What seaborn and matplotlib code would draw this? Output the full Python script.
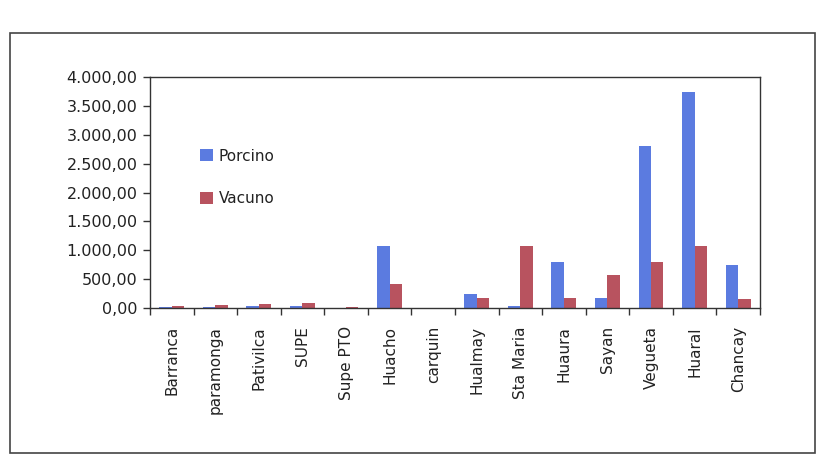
import matplotlib
matplotlib.use("Agg")
import matplotlib.pyplot as plt
import matplotlib.ticker as mticker
from matplotlib.patches import Rectangle
import pandas as pd
import seaborn as sns

categories = ["Barranca", "paramonga", "Pativilca", "SUPE", "Supe PTO", "Huacho",
              "carquin", "Hualmay", "Sta Maria", "Huaura", "Sayan", "Vegueta",
              "Huaral", "Chancay"]
porcino = [15, 25, 35, 40, 5, 1080, 3, 240, 40, 790, 180, 2800, 3750, 750]
vacuno = [35, 60, 75, 80, 10, 420, 5, 170, 1070, 180, 570, 790, 1070, 150]
series_names = ["Porcino", "Vacuno"]
colors = ["#5b7be0", "#b8535f"]
yticks = [0, 500, 1000, 1500, 2000, 2500, 3000, 3500, 4000]

df = pd.DataFrame({
    "Distrito": categories * 2,
    "Valor": porcino + vacuno,
    "Serie": [series_names[0]] * len(categories) + [series_names[1]] * len(categories),
})

sns.set_style("white")
plt.rcParams["font.family"] = ["DejaVu Sans"]

fig = plt.figure(figsize=(8.26, 4.65), dpi=100)
ax = fig.add_axes([0.1816, 0.3376, 0.7384, 0.4964])

sns.barplot(data=df, x="Distrito", y="Valor", hue="Serie", order=categories,
            hue_order=series_names, palette=colors, saturation=1, width=0.57,
            gap=0, ax=ax, errorbar=None, linewidth=0)

ax.set_ylim(0, 4000)
ax.set_xlim(-0.5, len(categories) - 0.5)
ax.set_yticks(yticks)
ax.yaxis.set_major_formatter(mticker.FuncFormatter(
    lambda v, p: f"{v:,.2f}".replace(",", "X").replace(".", ",").replace("X", ".")))
ax.set_xticks(range(len(categories)))
ax.set_xticklabels(categories, rotation=90, va="top", ha="center")
ax.set_xticks([i + 0.5 for i in range(-1, len(categories))], minor=True)
ax.tick_params(axis="x", which="major", length=0, pad=13, labelsize=11, colors="#222222")
ax.tick_params(axis="x", which="minor", length=5, width=1, color="#333333", direction="out", bottom=True)
ax.tick_params(axis="y", which="major", length=5, width=1, color="#333333", direction="out",
               left=True, labelsize=11.5, labelcolor="#222222", pad=4)
ax.set_xlabel("")
ax.set_ylabel("")
for s in ax.spines.values():
    s.set_visible(True)
    s.set_color("#333333")
    s.set_linewidth(1)

leg = ax.legend(loc="upper left", bbox_to_anchor=(0.06, 0.75), frameon=False,
                fontsize=11, labelspacing=1.8, handlelength=0.8, handleheight=0.8,
                handletextpad=0.4)
for t in leg.get_texts():
    t.set_color("#222222")

fig.patches.append(Rectangle((0.012, 0.025), 0.975, 0.905, transform=fig.transFigure,
                             fill=False, edgecolor="#444444", linewidth=1.2))

fig.savefig("out.png", dpi=100)
